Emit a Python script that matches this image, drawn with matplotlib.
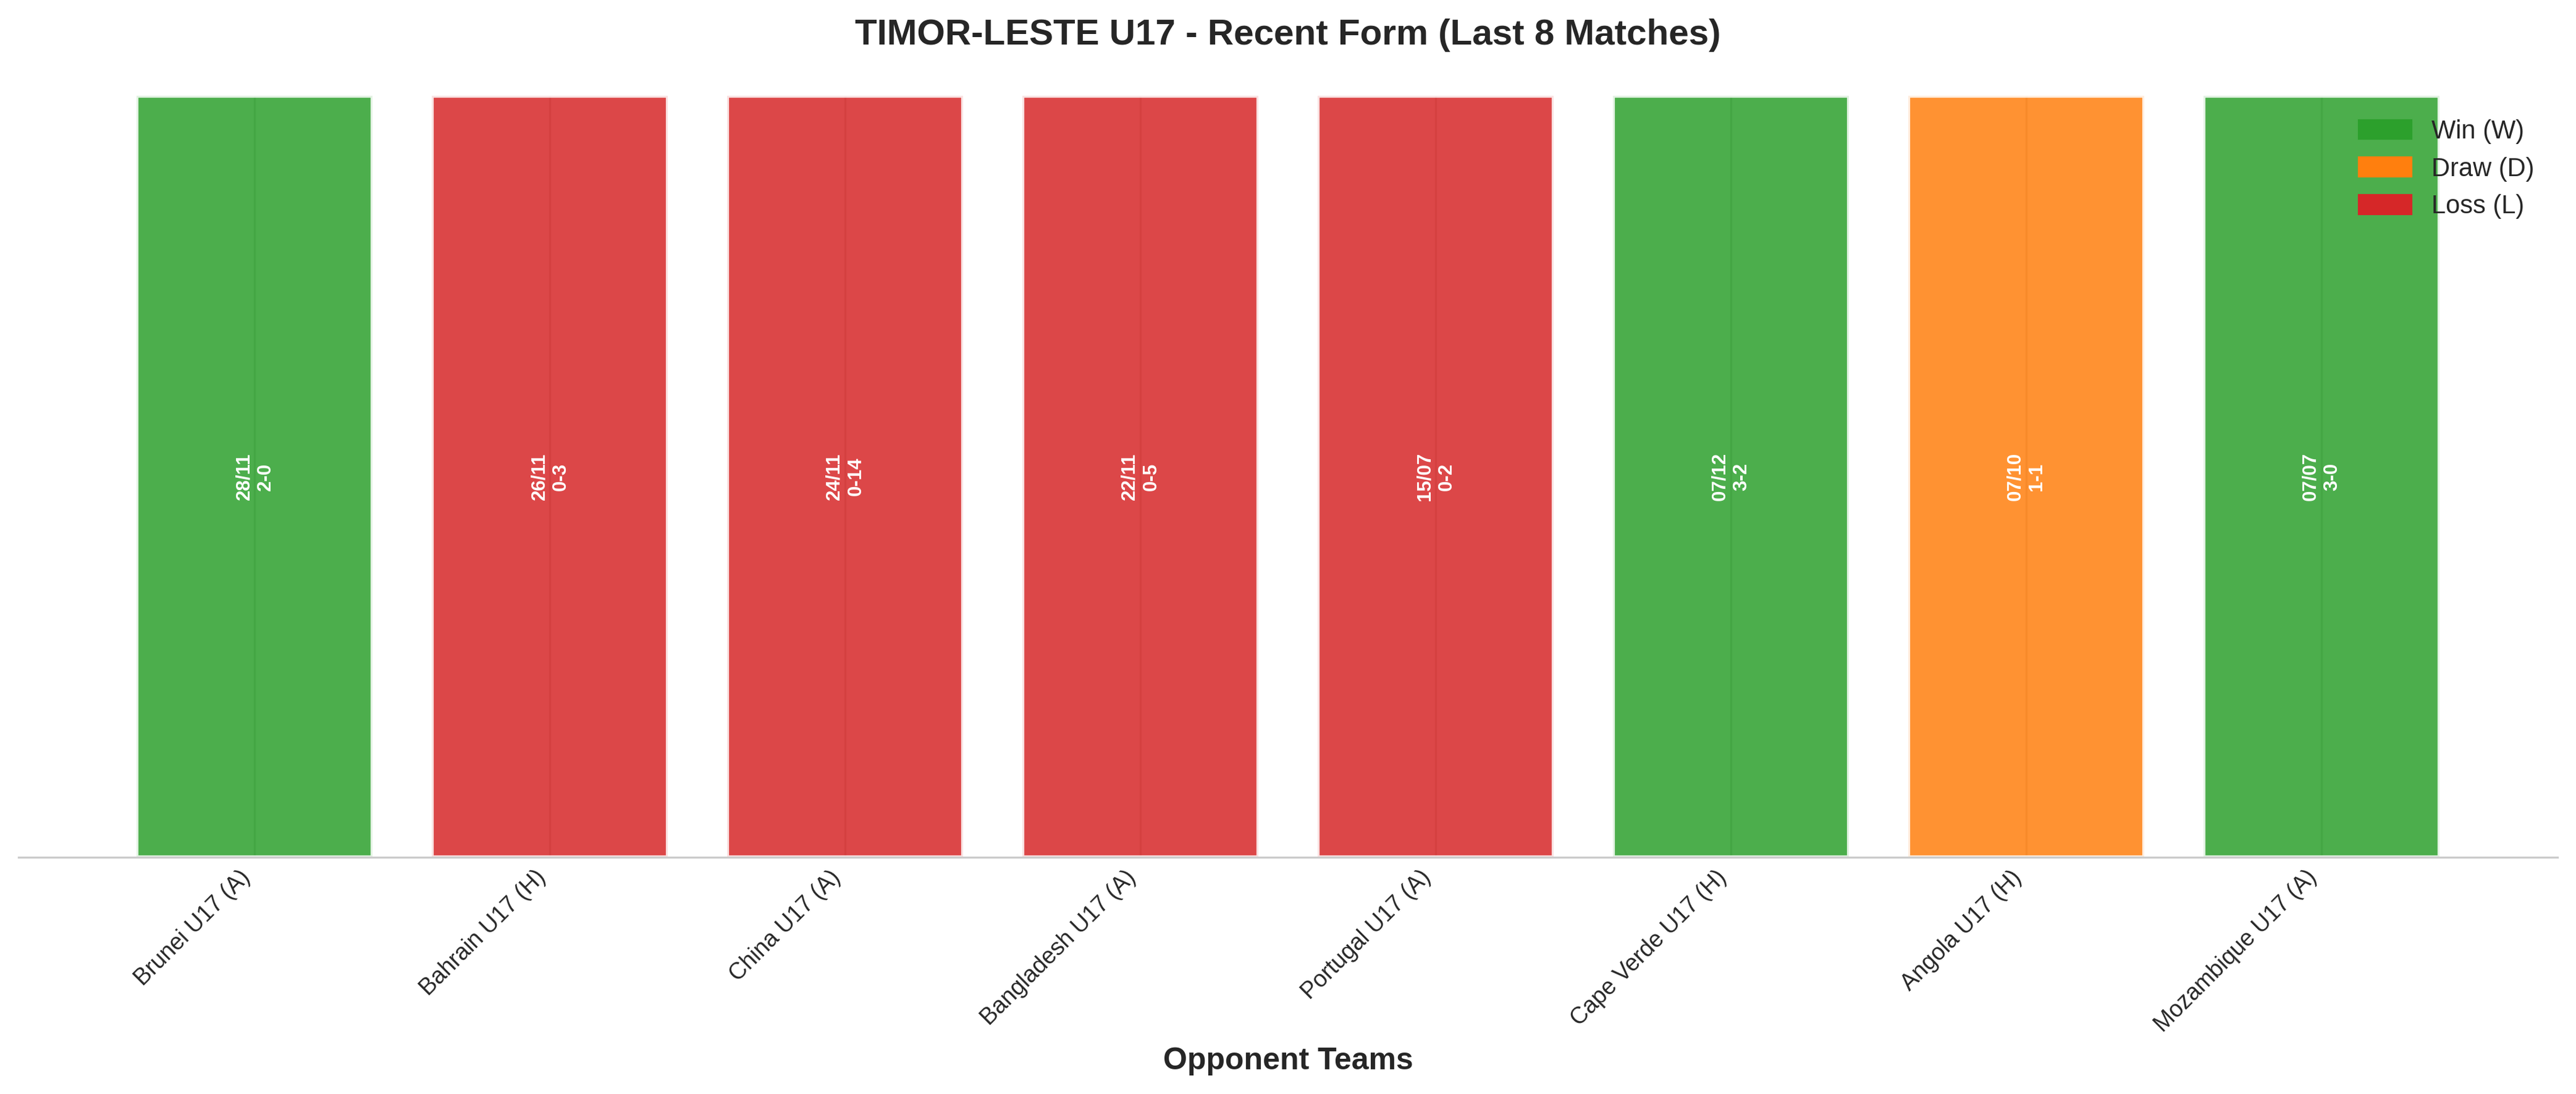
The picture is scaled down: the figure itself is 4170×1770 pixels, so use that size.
import matplotlib
matplotlib.use("Agg")
import matplotlib.pyplot as plt
import seaborn as sns
from matplotlib.patches import Patch

sns.set_style("whitegrid")
plt.rcParams['font.family'] = ['Liberation Sans', 'DejaVu Sans']

opponents = ["Brunei U17 (A)", "Bahrain U17 (H)", "China U17 (A)", "Bangladesh U17 (A)",
             "Portugal U17 (A)", "Cape Verde U17 (H)", "Angola U17 (H)", "Mozambique U17 (A)"]
results = ["W", "L", "L", "L", "L", "W", "D", "W"]
dates = ["28/11", "26/11", "24/11", "22/11", "15/07", "07/12", "07/10", "07/07"]
scores = ["2-0", "0-3", "0-14", "0-5", "0-2", "3-2", "1-1", "3-0"]

cmap = {"W": "#2ca02c", "D": "#ff7f0e", "L": "#d62728"}

fig, ax = plt.subplots(figsize=(14, 6), dpi=300)
x = list(range(len(opponents)))
ax.bar(x, [1] * len(x), color=[cmap[r] for r in results], alpha=0.85,
       edgecolor="white", linewidth=1.5, width=0.8)
for i in x:
    ax.text(i, 0.5, f"{dates[i]}\n{scores[i]}", rotation=90, ha="center", va="center",
            color="white", fontweight="bold", fontsize=7.5)
ax.set_xticks(x)
ax.set_xticklabels(opponents, rotation=45, ha="right", fontsize=9)
ax.tick_params(length=0)
ax.set_yticks([])
ax.set_ylim(0, 1.0)
ax.set_xlim(-0.8, 7.8)
ax.set_xlabel("Opponent Teams", fontsize=12, fontweight="bold")
ax.set_title("TIMOR-LESTE U17 - Recent Form (Last 8 Matches)", fontsize=14,
             fontweight="bold", pad=20)
for s in ["top", "right", "left"]:
    ax.spines[s].set_visible(False)
ax.spines["bottom"].set_color("#cccccc")
ax.legend(handles=[Patch(color=cmap["W"], label="Win (W)"),
                   Patch(color=cmap["D"], label="Draw (D)"),
                   Patch(color=cmap["L"], label="Loss (L)")],
          loc="upper right", frameon=False, fontsize=10)
plt.tight_layout()
plt.savefig("out.png", dpi=300, bbox_inches="tight")
